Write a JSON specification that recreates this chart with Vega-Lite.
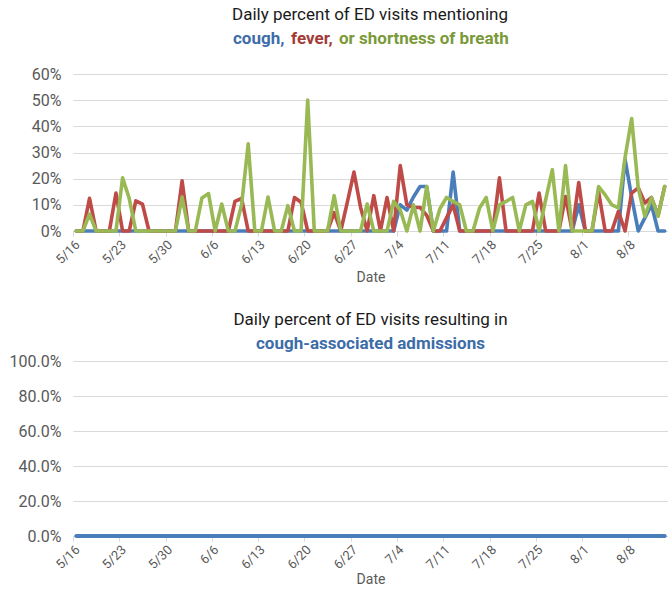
{
  "$schema": "https://vega.github.io/schema/vega-lite/v6.json",
  "background": "white",
  "padding": {"left": 9, "top": 7, "right": 0, "bottom": 2},
  "config": {
    "font": "Roboto, sans-serif",
    "view": {"stroke": null},
    "axis": {"labelColor": "#595959", "labelFontSize": 13, "titleColor": "#595959", "titleFontSize": 14, "titleFontWeight": "normal", "gridColor": "#d9d9d9", "domainColor": "#d9d9d9", "tickColor": "#d9d9d9"},
    "axisY": {"labelFontSize": 16},
    "legend": {"layout": {"top": {"anchor": "middle"}}},
    "concat": {"spacing": 26}
  },
  "datasets": {
    "ed": [
      {"date": "2020/05/16", "cough": 0, "fever": 0, "shortness of breath": 0, "admissions": 0},
      {"date": "2020/05/17", "cough": 0, "fever": 0, "shortness of breath": 0, "admissions": 0},
      {"date": "2020/05/18", "cough": 0, "fever": 0.125, "shortness of breath": 0.065, "admissions": 0},
      {"date": "2020/05/19", "cough": 0, "fever": 0, "shortness of breath": 0, "admissions": 0},
      {"date": "2020/05/20", "cough": 0, "fever": 0, "shortness of breath": 0, "admissions": 0},
      {"date": "2020/05/21", "cough": 0, "fever": 0, "shortness of breath": 0, "admissions": 0},
      {"date": "2020/05/22", "cough": 0, "fever": 0.145, "shortness of breath": 0, "admissions": 0},
      {"date": "2020/05/23", "cough": 0, "fever": 0, "shortness of breath": 0.203, "admissions": 0},
      {"date": "2020/05/24", "cough": 0, "fever": 0, "shortness of breath": 0.125, "admissions": 0},
      {"date": "2020/05/25", "cough": 0, "fever": 0.115, "shortness of breath": 0, "admissions": 0},
      {"date": "2020/05/26", "cough": 0, "fever": 0.103, "shortness of breath": 0, "admissions": 0},
      {"date": "2020/05/27", "cough": 0, "fever": 0, "shortness of breath": 0, "admissions": 0},
      {"date": "2020/05/28", "cough": 0, "fever": 0, "shortness of breath": 0, "admissions": 0},
      {"date": "2020/05/29", "cough": 0, "fever": 0, "shortness of breath": 0, "admissions": 0},
      {"date": "2020/05/30", "cough": 0, "fever": 0, "shortness of breath": 0, "admissions": 0},
      {"date": "2020/05/31", "cough": 0, "fever": 0, "shortness of breath": 0, "admissions": 0},
      {"date": "2020/06/01", "cough": 0, "fever": 0.192, "shortness of breath": 0.13, "admissions": 0},
      {"date": "2020/06/02", "cough": 0, "fever": 0, "shortness of breath": 0, "admissions": 0},
      {"date": "2020/06/03", "cough": 0, "fever": 0, "shortness of breath": 0, "admissions": 0},
      {"date": "2020/06/04", "cough": 0, "fever": 0, "shortness of breath": 0.126, "admissions": 0},
      {"date": "2020/06/05", "cough": 0, "fever": 0, "shortness of breath": 0.143, "admissions": 0},
      {"date": "2020/06/06", "cough": 0, "fever": 0, "shortness of breath": 0, "admissions": 0},
      {"date": "2020/06/07", "cough": 0, "fever": 0, "shortness of breath": 0.103, "admissions": 0},
      {"date": "2020/06/08", "cough": 0, "fever": 0, "shortness of breath": 0, "admissions": 0},
      {"date": "2020/06/09", "cough": 0, "fever": 0.113, "shortness of breath": 0, "admissions": 0},
      {"date": "2020/06/10", "cough": 0, "fever": 0.125, "shortness of breath": 0.1, "admissions": 0},
      {"date": "2020/06/11", "cough": 0, "fever": 0, "shortness of breath": 0.333, "admissions": 0},
      {"date": "2020/06/12", "cough": 0, "fever": 0, "shortness of breath": 0, "admissions": 0},
      {"date": "2020/06/13", "cough": 0, "fever": 0, "shortness of breath": 0, "admissions": 0},
      {"date": "2020/06/14", "cough": 0, "fever": 0, "shortness of breath": 0.13, "admissions": 0},
      {"date": "2020/06/15", "cough": 0, "fever": 0, "shortness of breath": 0, "admissions": 0},
      {"date": "2020/06/16", "cough": 0, "fever": 0, "shortness of breath": 0, "admissions": 0},
      {"date": "2020/06/17", "cough": 0, "fever": 0, "shortness of breath": 0.097, "admissions": 0},
      {"date": "2020/06/18", "cough": 0, "fever": 0.128, "shortness of breath": 0, "admissions": 0},
      {"date": "2020/06/19", "cough": 0, "fever": 0.11, "shortness of breath": 0, "admissions": 0},
      {"date": "2020/06/20", "cough": 0, "fever": 0, "shortness of breath": 0.5, "admissions": 0},
      {"date": "2020/06/21", "cough": 0, "fever": 0, "shortness of breath": 0, "admissions": 0},
      {"date": "2020/06/22", "cough": 0, "fever": 0, "shortness of breath": 0, "admissions": 0},
      {"date": "2020/06/23", "cough": 0, "fever": 0, "shortness of breath": 0, "admissions": 0},
      {"date": "2020/06/24", "cough": 0, "fever": 0.07, "shortness of breath": 0.135, "admissions": 0},
      {"date": "2020/06/25", "cough": 0, "fever": 0, "shortness of breath": 0, "admissions": 0},
      {"date": "2020/06/26", "cough": 0, "fever": 0.11, "shortness of breath": 0, "admissions": 0},
      {"date": "2020/06/27", "cough": 0, "fever": 0.225, "shortness of breath": 0, "admissions": 0},
      {"date": "2020/06/28", "cough": 0, "fever": 0.09, "shortness of breath": 0, "admissions": 0},
      {"date": "2020/06/29", "cough": 0, "fever": 0, "shortness of breath": 0.103, "admissions": 0},
      {"date": "2020/06/30", "cough": 0, "fever": 0.135, "shortness of breath": 0, "admissions": 0},
      {"date": "2020/07/01", "cough": 0, "fever": 0, "shortness of breath": 0, "admissions": 0},
      {"date": "2020/07/02", "cough": 0, "fever": 0.128, "shortness of breath": 0, "admissions": 0},
      {"date": "2020/07/03", "cough": 0, "fever": 0, "shortness of breath": 0.113, "admissions": 0},
      {"date": "2020/07/04", "cough": 0.1, "fever": 0.25, "shortness of breath": 0.08, "admissions": 0},
      {"date": "2020/07/05", "cough": 0.08, "fever": 0.1, "shortness of breath": 0, "admissions": 0},
      {"date": "2020/07/06", "cough": 0.13, "fever": 0.09, "shortness of breath": 0.1, "admissions": 0},
      {"date": "2020/07/07", "cough": 0.17, "fever": 0.09, "shortness of breath": 0, "admissions": 0},
      {"date": "2020/07/08", "cough": 0.17, "fever": 0.06, "shortness of breath": 0.17, "admissions": 0},
      {"date": "2020/07/09", "cough": 0, "fever": 0, "shortness of breath": 0, "admissions": 0},
      {"date": "2020/07/10", "cough": 0, "fever": 0, "shortness of breath": 0.085, "admissions": 0},
      {"date": "2020/07/11", "cough": 0, "fever": 0.05, "shortness of breath": 0.128, "admissions": 0},
      {"date": "2020/07/12", "cough": 0.225, "fever": 0.1, "shortness of breath": 0.113, "admissions": 0},
      {"date": "2020/07/13", "cough": 0, "fever": 0, "shortness of breath": 0.1, "admissions": 0},
      {"date": "2020/07/14", "cough": 0, "fever": 0, "shortness of breath": 0, "admissions": 0},
      {"date": "2020/07/15", "cough": 0, "fever": 0, "shortness of breath": 0, "admissions": 0},
      {"date": "2020/07/16", "cough": 0, "fever": 0, "shortness of breath": 0.088, "admissions": 0},
      {"date": "2020/07/17", "cough": 0, "fever": 0, "shortness of breath": 0.128, "admissions": 0},
      {"date": "2020/07/18", "cough": 0, "fever": 0, "shortness of breath": 0, "admissions": 0},
      {"date": "2020/07/19", "cough": 0, "fever": 0.203, "shortness of breath": 0.1, "admissions": 0},
      {"date": "2020/07/20", "cough": 0, "fever": 0, "shortness of breath": 0.113, "admissions": 0},
      {"date": "2020/07/21", "cough": 0, "fever": 0, "shortness of breath": 0.128, "admissions": 0},
      {"date": "2020/07/22", "cough": 0, "fever": 0, "shortness of breath": 0, "admissions": 0},
      {"date": "2020/07/23", "cough": 0, "fever": 0, "shortness of breath": 0.1, "admissions": 0},
      {"date": "2020/07/24", "cough": 0, "fever": 0, "shortness of breath": 0.113, "admissions": 0},
      {"date": "2020/07/25", "cough": 0, "fever": 0.145, "shortness of breath": 0, "admissions": 0},
      {"date": "2020/07/26", "cough": 0, "fever": 0, "shortness of breath": 0.12, "admissions": 0},
      {"date": "2020/07/27", "cough": 0, "fever": 0, "shortness of breath": 0.234, "admissions": 0},
      {"date": "2020/07/28", "cough": 0, "fever": 0, "shortness of breath": 0, "admissions": 0},
      {"date": "2020/07/29", "cough": 0, "fever": 0.132, "shortness of breath": 0.25, "admissions": 0},
      {"date": "2020/07/30", "cough": 0, "fever": 0, "shortness of breath": 0, "admissions": 0},
      {"date": "2020/07/31", "cough": 0.1, "fever": 0.185, "shortness of breath": 0, "admissions": 0},
      {"date": "2020/08/01", "cough": 0, "fever": 0, "shortness of breath": 0, "admissions": 0},
      {"date": "2020/08/02", "cough": 0, "fever": 0, "shortness of breath": 0, "admissions": 0},
      {"date": "2020/08/03", "cough": 0, "fever": 0.15, "shortness of breath": 0.17, "admissions": 0},
      {"date": "2020/08/04", "cough": 0, "fever": 0, "shortness of breath": 0.138, "admissions": 0},
      {"date": "2020/08/05", "cough": 0, "fever": 0, "shortness of breath": 0.1, "admissions": 0},
      {"date": "2020/08/06", "cough": 0, "fever": 0.075, "shortness of breath": 0.088, "admissions": 0},
      {"date": "2020/08/07", "cough": 0.275, "fever": 0, "shortness of breath": 0.28, "admissions": 0},
      {"date": "2020/08/08", "cough": 0.13, "fever": 0.145, "shortness of breath": 0.43, "admissions": 0},
      {"date": "2020/08/09", "cough": 0, "fever": 0.165, "shortness of breath": 0.164, "admissions": 0},
      {"date": "2020/08/10", "cough": 0.05, "fever": 0.107, "shortness of breath": 0.056, "admissions": 0},
      {"date": "2020/08/11", "cough": 0.1, "fever": 0.128, "shortness of breath": 0.128, "admissions": 0},
      {"date": "2020/08/12", "cough": 0, "fever": 0.06, "shortness of breath": 0.056, "admissions": 0},
      {"date": "2020/08/13", "cough": 0, "fever": 0.17, "shortness of breath": 0.17, "admissions": 0}
    ]
  },
  "vconcat": [
    {
      "width": 595,
      "height": 157,
      "data": {"name": "ed"},
      "transform": [{"fold": ["cough", "fever", "shortness of breath"], "as": ["series", "pct"]}],
      "mark": {"type": "line", "strokeWidth": 3.6, "strokeJoin": "round", "strokeCap": "round"},
      "encoding": {
        "x": {
          "field": "date", "type": "temporal", "timeUnit": "yearmonthdate", "bandPosition": 0.5,
          "scale": {"domain": [{"year": 2020, "month": 5, "date": 16}, {"year": 2020, "month": 8, "date": 14}]},
          "axis": {
            "title": "Date", "format": "%-m/%-d", "labelAngle": -45, "grid": false, "tickSize": 5, "labelPadding": 2,
            "values": [
              {"year": 2020, "month": 5, "date": 16}, {"year": 2020, "month": 5, "date": 23}, {"year": 2020, "month": 5, "date": 30},
              {"year": 2020, "month": 6, "date": 6}, {"year": 2020, "month": 6, "date": 13}, {"year": 2020, "month": 6, "date": 20},
              {"year": 2020, "month": 6, "date": 27}, {"year": 2020, "month": 7, "date": 4}, {"year": 2020, "month": 7, "date": 11},
              {"year": 2020, "month": 7, "date": 18}, {"year": 2020, "month": 7, "date": 25}, {"year": 2020, "month": 8, "date": 1},
              {"year": 2020, "month": 8, "date": 8}
            ]
          }
        },
        "y": {
          "field": "pct", "type": "quantitative",
          "scale": {"domain": [0, 0.6]},
          "axis": {"title": null, "values": [0, 0.1, 0.2, 0.3, 0.4, 0.5, 0.6], "format": ".0%", "domain": false, "ticks": false, "labelPadding": 12}
        },
        "color": {
          "field": "series", "type": "nominal",
          "scale": {"domain": ["cough", "fever", "shortness of breath"], "range": ["#4a7ebb", "#be4b48", "#98b954"]},
          "legend": {
            "orient": "top", "direction": "horizontal",
            "title": "Daily percent of ED visits mentioning", "titleOrient": "top", "titleAnchor": "middle",
            "titleFontSize": 17, "titleFontWeight": "normal", "titleColor": "#1a1a1a", "titlePadding": 6, "titleLimit": 600,
            "gridAlign": "none", "labelLimit": 500,
            "symbolSize": 0, "symbolOpacity": 0, "symbolStrokeWidth": 0, "labelOffset": -16, "columnPadding": 5,
            "labelFontSize": 17, "labelFontWeight": "bold", "offset": 19, "padding": 0,
            "labelExpr": "datum.label == 'cough' ? 'cough,' : datum.label == 'fever' ? 'fever,' : 'or shortness of breath'",
            "labelColor": {"expr": "datum.value == 'cough' ? '#3d6ca8' : datum.value == 'fever' ? '#a33b38' : '#7a9a3a'"}
          }
        }
      }
    },
    {
      "title": {"text": "Daily percent of ED visits resulting in", "subtitle": "cough-associated admissions", "fontSize": 17, "fontWeight": "normal", "color": "#1a1a1a", "subtitleColor": "#3d6ca8", "subtitleFontSize": 17, "subtitleFontWeight": "bold", "subtitlePadding": 7, "frame": "group", "anchor": "middle", "offset": 0},
      "width": 595,
      "height": 175,
      "data": {"name": "ed"},
      "mark": {"type": "line", "color": "#4a7ebb", "strokeWidth": 4, "strokeCap": "round"},
      "encoding": {
        "x": {
          "field": "date", "type": "temporal", "timeUnit": "yearmonthdate", "bandPosition": 0.5,
          "scale": {"domain": [{"year": 2020, "month": 5, "date": 16}, {"year": 2020, "month": 8, "date": 14}]},
          "axis": {
            "title": "Date", "format": "%-m/%-d", "labelAngle": -45, "grid": false, "tickSize": 5, "labelPadding": 2, "titlePadding": 1,
            "values": [
              {"year": 2020, "month": 5, "date": 16}, {"year": 2020, "month": 5, "date": 23}, {"year": 2020, "month": 5, "date": 30},
              {"year": 2020, "month": 6, "date": 6}, {"year": 2020, "month": 6, "date": 13}, {"year": 2020, "month": 6, "date": 20},
              {"year": 2020, "month": 6, "date": 27}, {"year": 2020, "month": 7, "date": 4}, {"year": 2020, "month": 7, "date": 11},
              {"year": 2020, "month": 7, "date": 18}, {"year": 2020, "month": 7, "date": 25}, {"year": 2020, "month": 8, "date": 1},
              {"year": 2020, "month": 8, "date": 8}
            ]
          }
        },
        "y": {
          "field": "admissions", "type": "quantitative",
          "scale": {"domain": [0, 1]},
          "axis": {"title": null, "values": [0, 0.2, 0.4, 0.6, 0.8, 1], "format": ".1%", "domain": false, "ticks": false, "labelPadding": 12}
        }
      }
    }
  ]
}
